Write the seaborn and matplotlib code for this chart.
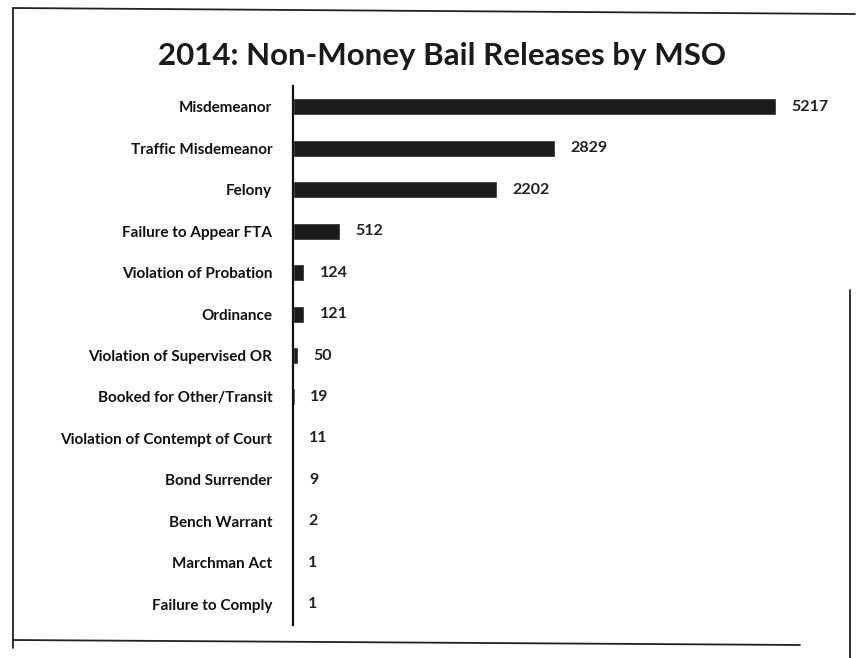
import matplotlib
matplotlib.use("Agg")
import matplotlib.pyplot as plt
from matplotlib.lines import Line2D
import seaborn as sns
import pandas as pd

categories = [
    "Misdemeanor", "Traffic Misdemeanor", "Felony", "Failure to Appear FTA",
    "Violation of Probation", "Ordinance", "Violation of Supervised OR",
    "Booked for Other/Transit", "Violation of Contempt of Court",
    "Bond Surrender", "Bench Warrant", "Marchman Act", "Failure to Comply",
]
counts = [5217, 2829, 2202, 512, 124, 121, 50, 19, 11, 9, 2, 1, 1]
title = "2014: Non-Money Bail Releases by MSO"

sns.set_theme(style="white")
plt.rcParams["font.family"] = ["Lato", "DejaVu Sans"]

W, H = 860, 658
fig = plt.figure(figsize=(W / 100, H / 100), dpi=100)
fig.patch.set_facecolor("white")

ax = fig.add_axes([293 / W, 1 - 625 / H, 537 / W, (625 - 86) / H])
df = pd.DataFrame({"offense": categories, "count": counts})
sns.barplot(data=df, x="count", y="offense", color="#1c1c1c", saturation=1,
            width=0.41, ax=ax)

ax.set_xlim(0, 5800)
ax.set_xlabel("")
ax.set_ylabel("")
ax.set_xticks([])
for side in ("top", "right", "bottom"):
    ax.spines[side].set_visible(False)
ax.spines["left"].set_color("#111111")
ax.spines["left"].set_linewidth(1.6)
ax.tick_params(axis="y", length=0, pad=15)
for lbl in ax.get_yticklabels():
    lbl.set_fontweight("bold")
    lbl.set_fontsize(11)
    lbl.set_color("#111111")

for container in ax.containers:
    ax.bar_label(container, labels=[str(v) for v in counts], padding=11,
                 fontsize=11.5, fontweight="bold", color="#222222")

fig.text(442 / W, 1 - 56 / H, title, ha="center", va="center",
         fontsize=22.5, fontweight="bold", color="#1a1a1a")

# page border around the chart
border = dict(color="#222222", linewidth=1.3, transform=fig.transFigure)
fig.add_artist(Line2D([13 / W, 13 / W], [1 - 8 / H, 1 - 648 / H], **border))
fig.add_artist(Line2D([13 / W, 855 / W], [1 - 8 / H, 1 - 14 / H], **border))
fig.add_artist(Line2D([13 / W, 800 / W], [1 - 640 / H, 1 - 645 / H], **border))
fig.add_artist(Line2D([850 / W, 850 / W], [1 - 290 / H, 0], **border))

fig.savefig("out.png", dpi=100, facecolor="white")
